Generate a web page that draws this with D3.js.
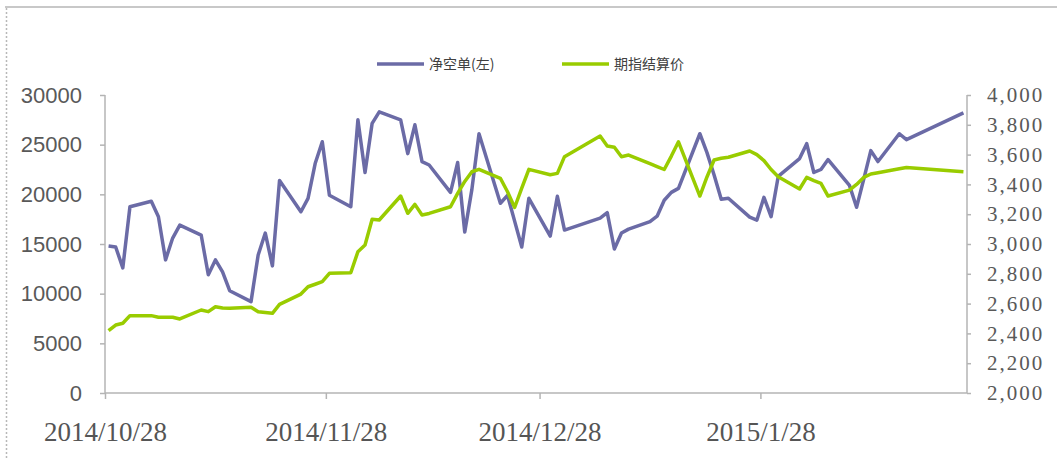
<!DOCTYPE html>
<meta charset="utf-8">
<style>
  body { margin: 0; background: #fff; }
  svg { display: block; }
</style>
<body>
<div id="chart"></div>
<script src="https://d3js.org/d3.v7.min.js"></script>
<script>
// trading days
var dates = [
  "2014-10-28", "2014-10-29", "2014-10-30", "2014-10-31",
  "2014-11-03", "2014-11-04", "2014-11-05", "2014-11-06", "2014-11-07",
  "2014-11-10", "2014-11-11", "2014-11-12", "2014-11-13", "2014-11-14",
  "2014-11-17", "2014-11-18", "2014-11-19", "2014-11-20", "2014-11-21",
  "2014-11-24", "2014-11-25", "2014-11-26", "2014-11-27", "2014-11-28",
  "2014-12-01", "2014-12-02", "2014-12-03", "2014-12-04", "2014-12-05",
  "2014-12-08", "2014-12-09", "2014-12-10", "2014-12-11", "2014-12-12",
  "2014-12-15", "2014-12-16", "2014-12-17", "2014-12-18", "2014-12-19",
  "2014-12-22", "2014-12-23", "2014-12-24", "2014-12-25", "2014-12-26",
  "2014-12-29", "2014-12-30", "2014-12-31",
  "2015-01-05", "2015-01-06", "2015-01-07", "2015-01-08", "2015-01-09",
  "2015-01-12", "2015-01-13", "2015-01-14", "2015-01-15", "2015-01-16",
  "2015-01-19", "2015-01-20", "2015-01-21", "2015-01-22", "2015-01-23",
  "2015-01-26", "2015-01-27", "2015-01-28", "2015-01-29", "2015-01-30",
  "2015-02-02", "2015-02-03", "2015-02-04", "2015-02-05", "2015-02-06",
  "2015-02-09", "2015-02-10", "2015-02-11", "2015-02-12", "2015-02-13",
  "2015-02-16", "2015-02-17", "2015-02-25"
];

// 净空单 (left axis)
var netShort = [
  14800, 14700, 12600, 18750,
  19300, 17750, 13400, 15600, 16900,
  15900, 11900, 13400, 12200, 10300,
  9200, 13900, 16100, 12800, 21400,
  18250, 19600, 23100, 25300, 19900,
  18750, 27500, 22200, 27150, 28300,
  27500, 24100, 27000, 23300, 22950,
  20200, 23200, 16200, 20500, 26100,
  19100, 19900, 17300, 14700, 19600,
  15800, 19800, 16400,
  17600, 18150, 14500, 16100, 16500,
  17250, 17800, 19400, 20200, 20600,
  26100, 24200, 21950, 19500, 19600,
  17700, 17400, 19700, 17750, 21800,
  23600, 25100, 22200, 22500, 23500,
  20900, 18700, 21500, 24400, 23300,
  26100, 25500, 28200
];

// 期指结算价 (right axis)
var settlePrice = [
  2418, 2456, 2468, 2519,
  2519, 2508, 2508, 2508, 2497,
  2557, 2546, 2579, 2570, 2568,
  2575, 2546, 2540, 2535, 2595,
  2664, 2713, 2730, 2747, 2803,
  2807, 2948, 2993, 3166, 3161,
  3322, 3206, 3266, 3195, 3205,
  3250, 3340, 3420, 3485, 3501,
  3441, 3351, 3245, 3375, 3501,
  3465, 3474, 3586,
  3725, 3658, 3649, 3586, 3597,
  3540, 3520, 3500, 3590, 3686,
  3322, 3450, 3564, 3575, 3582,
  3624, 3600, 3560, 3500, 3452,
  3369, 3447, 3425, 3407, 3322,
  3362, 3400, 3447, 3470, 3478,
  3505, 3514, 3485
];

var tickDates = ["2014-10-28", "2014-11-28", "2014-12-28", "2015-01-28"];
var leftTicks = [0, 5000, 10000, 15000, 20000, 25000, 30000];
var rightTicks = [2000, 2200, 2400, 2600, 2800, 3000, 3200, 3400, 3600, 3800, 4000];
var seriesNames = ["净空单(左)", "期指结算价"];

var W = 1057, H = 459;
var plotL = 105, plotR = 967, plotT = 95, plotB = 393;

var parseDate = d3.timeParse("%Y-%m-%d");

var data = dates.map(function(d, i) {
  return { date: parseDate(d), net: netShort[i], price: settlePrice[i] };
});

var svg = d3.select("#chart").append("svg")
  .attr("width", W)
  .attr("height", H);

// outer frame bits
svg.append("line")
  .attr("x1", 5).attr("x2", W).attr("y1", 7).attr("y2", 7)
  .attr("stroke", "#c8c8c8").attr("stroke-width", 2);
svg.append("line")
  .attr("x1", 6.5).attr("x2", 6.5).attr("y1", 8).attr("y2", H)
  .attr("stroke", "#b8b8b8").attr("stroke-width", 1.5)
  .attr("stroke-dasharray", "2,2");

// scales - Excel date axis, points sit in the middle of each day
var x = d3.scaleTime()
  .domain([parseDate("2014-10-28"), parseDate("2015-02-26")])
  .range([plotL, plotR]);

var yL = d3.scaleLinear().domain([0, 30000]).range([plotB, plotT]);
var yR = d3.scaleLinear().domain([2000, 4000]).range([plotB, plotT]);

function xMid(d) {
  return x(d3.timeHour.offset(d, 12));
}

// axes
var xAxis = d3.axisBottom(x)
  .tickValues(tickDates.map(parseDate))
  .tickSize(6)
  .tickFormat(d3.timeFormat("%Y/%-m/%d"));

var gx = svg.append("g")
  .attr("transform", "translate(0," + plotB + ")")
  .call(xAxis);
gx.selectAll("text")
  .attr("y", 48)
  .attr("dy", 0)
  .attr("fill", "#555")
  .style("font-family", "'Liberation Serif', serif")
  .style("font-size", "27px");

var gl = svg.append("g")
  .attr("transform", "translate(" + plotL + ",0)")
  .call(d3.axisLeft(yL).tickValues(leftTicks).tickSize(5).tickPadding(18).tickFormat(d3.format("d")));
gl.selectAll("text")
  .attr("fill", "#595959")
  .style("font-family", "'Liberation Sans', Arial, sans-serif")
  .style("font-size", "22px");

var gr = svg.append("g")
  .attr("transform", "translate(" + plotR + ",0)")
  .call(d3.axisRight(yR).tickValues(rightTicks).tickSize(4).tickPadding(16).tickFormat(d3.format(",")));
gr.selectAll("text")
  .attr("fill", "#595959")
  .style("font-family", "'Liberation Serif', serif")
  .style("font-size", "21px")
  .style("letter-spacing", "2px");

svg.selectAll(".domain, .tick line")
  .attr("stroke", "#b4b4b4")
  .attr("stroke-width", 1.5);
// no end caps on the domain paths
gx.select(".domain").attr("d", "M" + plotL + ",0H" + plotR);
gl.select(".domain").attr("d", "M0," + plotT + "V" + plotB);
gr.select(".domain").attr("d", "M0," + plotT + "V" + plotB);

// lines
var netLine = d3.line()
  .x(function(d) { return xMid(d.date); })
  .y(function(d) { return yL(d.net); });

var priceLine = d3.line()
  .x(function(d) { return xMid(d.date); })
  .y(function(d) { return yR(d.price); });

svg.append("path")
  .datum(data)
  .attr("d", netLine)
  .attr("fill", "none")
  .attr("stroke", "#6b6ba6")
  .attr("stroke-width", 3.5)
  .attr("stroke-linejoin", "round");

svg.append("path")
  .datum(data)
  .attr("d", priceLine)
  .attr("fill", "none")
  .attr("stroke", "#99cc00")
  .attr("stroke-width", 3.5)
  .attr("stroke-linejoin", "round");

// legend
var legend = [
  { name: seriesNames[0], color: "#6b6ba6", x: 377 },
  { name: seriesNames[1], color: "#99cc00", x: 562 }
];
var lg = svg.selectAll(".legend")
  .data(legend)
  .enter().append("g")
  .attr("class", "legend")
  .attr("transform", function(d) { return "translate(" + d.x + ",64)"; });
lg.append("line")
  .attr("x1", 0).attr("x2", 47)
  .attr("stroke", function(d) { return d.color; })
  .attr("stroke-width", 3.5);
lg.append("text")
  .attr("x", 52)
  .attr("dy", "0.35em")
  .attr("fill", "#404040")
  .style("font-family", "'Noto Sans CJK SC', sans-serif")
  .style("font-size", "14px")
  .text(function(d) { return d.name; });
</script>
</body>
